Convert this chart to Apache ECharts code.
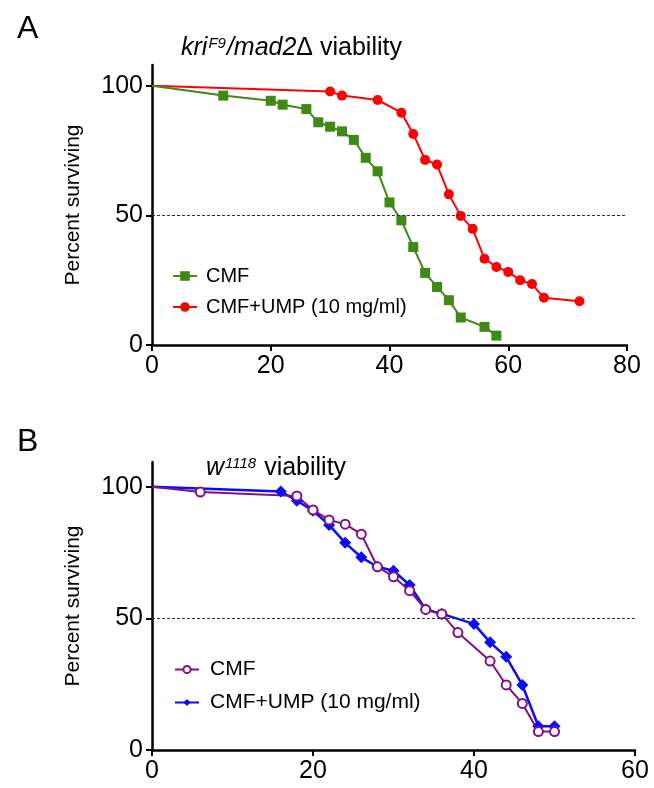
<!DOCTYPE html>
<html>
<head>
<meta charset="utf-8">
<script src="https://cdn.jsdelivr.net/npm/echarts@6/dist/echarts.min.js"></script>
<style>
html,body{margin:0;padding:0;background:#fff;}
#chart{width:654px;height:788px;}
</style>
</head>
<body>
<div id="chart"></div>
<script>
// Panel A: kri^F9/mad2Δ viability
const aCmfX = [0, 12, 20, 22, 26, 28, 30, 32, 34, 36, 38, 40, 42, 44, 46, 48, 50, 52, 56, 58];
const aCmfY = [100, 96.2, 94.2, 92.7, 91.0, 85.9, 84.2, 82.4, 79.1, 72.2, 67.0, 55.0, 48.1, 37.8, 27.8, 22.4, 17.3, 10.6, 7.0, 3.6];
const aUmpX = [0, 30, 32, 38, 42, 44, 46, 48, 50, 52, 54, 56, 58, 60, 62, 64, 66, 72];
const aUmpY = [100, 97.8, 96.2, 94.5, 89.6, 81.4, 71.4, 69.6, 58.1, 49.8, 44.8, 33.3, 30.1, 28.2, 25.0, 23.5, 18.2, 16.9];
// Panel B: w1118 viability
const bCmfX = [0, 6, 18, 20, 22, 24, 26, 28, 30, 32, 34, 36, 38, 42, 44, 46, 48, 50];
const bCmfY = [100, 98.0, 96.5, 91.2, 87.4, 85.8, 82.0, 69.6, 65.8, 60.5, 53.4, 51.7, 44.6, 33.8, 24.7, 17.7, 7.0, 7.0];
const bUmpX = [0, 16, 18, 20, 22, 24, 26, 28, 30, 32, 34, 36, 40, 42, 44, 46, 48, 50];
const bUmpY = [100, 98.2, 94.7, 90.9, 85.5, 78.7, 73.2, 69.6, 68.1, 62.7, 53.4, 51.7, 47.9, 40.9, 35.4, 24.7, 9.0, 9.0];
const yTicks = [0, 50, 100];
const refLevel = 50;
const seriesNames = ['CMF', 'CMF+UMP (10 mg/ml)'];

// the starting point (time 0) is drawn without a marker, as in the original
const zip = (xs, ys) => xs.map((x, i) => (i === 0 ? {value: [x, ys[i]], symbol: 'none'} : [x, ys[i]]));
const FONT = '"Liberation Sans", Arial, sans-serif';

function xAxisCfg(gridIndex, max) {
  return {
    type: 'value', gridIndex, min: 0, max, interval: 20,
    axisLine: {show: true, onZero: false, lineStyle: {color: '#000', width: 2.5}},
    axisTick: {show: true, length: 6, lineStyle: {color: '#000', width: 2}},
    axisLabel: {fontSize: 25, color: '#000', fontFamily: FONT, margin: 9},
    splitLine: {show: false}
  };
}
function yAxisCfg(gridIndex, max) {
  return {
    type: 'value', gridIndex, min: 0, max, interval: 50,
    name: 'Percent surviving', nameLocation: 'middle', nameGap: 68, nameRotate: 90,
    nameTextStyle: {fontSize: 21, color: '#000', fontFamily: FONT},
    axisLine: {show: true, onZero: false, lineStyle: {color: '#000', width: 2.5}},
    axisTick: {show: true, length: 6, customValues: yTicks, lineStyle: {color: '#000', width: 2}},
    axisLabel: {fontSize: 25, color: '#000', fontFamily: FONT, margin: 9, customValues: yTicks},
    splitLine: {show: false}
  };
}
const refLine = {
  silent: true, symbol: 'none', label: {show: false},
  lineStyle: {color: '#333', width: 1, type: [3, 2]},
  data: [{yAxis: refLevel}]
};
function richStyle(size, supSize, supPad) {
  return {
    i: {fontSize: size, fontStyle: 'italic', fontWeight: 'normal', color: '#000', fontFamily: FONT},
    s: {fontSize: supSize, fontStyle: 'italic', fontWeight: 'normal', color: '#000', fontFamily: FONT, padding: [0, 1, supPad, 1]},
    n: {fontSize: size, fontWeight: 'normal', color: '#000', fontFamily: FONT}
  };
}

const chart = echarts.init(document.getElementById('chart'), null, {renderer: 'canvas'});
chart.setOption({
  animation: false,
  backgroundColor: '#fff',
  title: [
    {text: 'A', left: 12, top: 8, textStyle: {fontSize: 32, fontWeight: 'normal', color: '#000', fontFamily: FONT}},
    {text: 'B', left: 12, top: 421, textStyle: {fontSize: 32, fontWeight: 'normal', color: '#000', fontFamily: FONT}},
    {text: '{i|kri}{s|F9}{i|/mad2}{n|Δ viability}', left: 176, top: 31,
     textStyle: {fontWeight: 'normal', rich: richStyle(25, 15, 10)}},
    {text: '{i|w}{s|1118}{n| viability}', left: 201, top: 451,
     textStyle: {fontWeight: 'normal', rich: richStyle(25, 15, 10)}}
  ],
  legend: [
    {orient: 'vertical', left: 167, top: 261, itemWidth: 24, itemHeight: 12, itemGap: 11,
     textStyle: {fontSize: 20, color: '#000', fontFamily: FONT, padding: [0, 0, 0, 4]},
     data: [{name: seriesNames[0]}, {name: seriesNames[1]}]},
    {orient: 'vertical', left: 169, top: 654, itemWidth: 24, itemHeight: 9, itemGap: 12,
     textStyle: {fontSize: 21, color: '#000', fontFamily: FONT, padding: [0, 0, 0, 6]},
     data: [{name: seriesNames[0] + ' '}, {name: seriesNames[1] + ' '}]}
  ],
  grid: [
    {left: 152, top: 65, width: 475, height: 280},
    {left: 152, top: 462, width: 483, height: 288}
  ],
  xAxis: [xAxisCfg(0, 80), xAxisCfg(1, 60)],
  yAxis: [yAxisCfg(0, 108), yAxisCfg(1, 109.4)],
  series: [
    {name: seriesNames[1], type: 'line', xAxisIndex: 0, yAxisIndex: 0,
     data: zip(aUmpX, aUmpY), symbol: 'circle', symbolSize: 10,
     itemStyle: {color: '#ff0000'}, lineStyle: {color: '#ff0000', width: 2}},
    {name: seriesNames[0], type: 'line', xAxisIndex: 0, yAxisIndex: 0,
     data: zip(aCmfX, aCmfY), symbol: 'rect', symbolSize: 10,
     itemStyle: {color: '#3e8a14'}, lineStyle: {color: '#3e8a14', width: 2},
     markLine: refLine},
    {name: seriesNames[1] + ' ', type: 'line', xAxisIndex: 1, yAxisIndex: 1,
     data: zip(bUmpX, bUmpY), symbol: 'diamond', symbolSize: 12,
     itemStyle: {color: '#0a0aff'}, lineStyle: {color: '#0a0aff', width: 2.5}},
    {name: seriesNames[0] + ' ', type: 'line', xAxisIndex: 1, yAxisIndex: 1,
     data: zip(bCmfX, bCmfY), symbol: 'emptyCircle', symbolSize: 9,
     itemStyle: {color: '#820f86', borderWidth: 2}, lineStyle: {color: '#820f86', width: 2},
     markLine: refLine}
  ]
});
</script>
</body>
</html>
